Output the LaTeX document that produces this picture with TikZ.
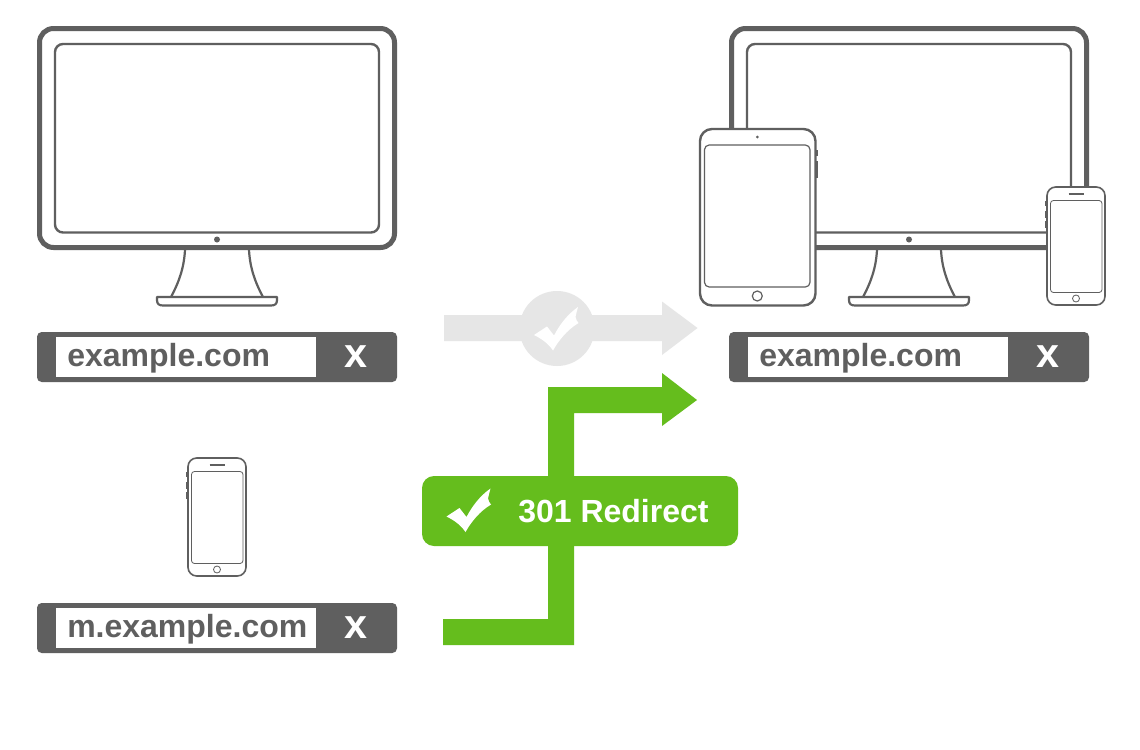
\documentclass[tikz,border=0pt]{standalone}
\usepackage{fontspec}
\setmainfont{Liberation Sans}
\definecolor{dk}{HTML}{5F5F5F}
\definecolor{gn}{HTML}{65BD1D}
\definecolor{lg}{HTML}{E6E6E6}
\tikzset{
  px/.style={line width=#1*0.75pt},
  ln/.style={draw=dk,px=#1},
  devbody/.style={draw=dk,fill=white,px=#1},
  urltext/.style={font=\bfseries\fontsize{24}{28}\selectfont,text=dk,anchor=west,inner sep=0pt},
  xmark/.style={font=\bfseries\fontsize{31}{32}\selectfont,text=white,inner sep=0pt},
  redirect/.style={fill=gn,rounded corners=9pt,minimum width=237pt,minimum height=52.5pt,inner sep=0pt},
  redirecttext/.style={font=\bfseries\fontsize{24}{30}\selectfont,text=white,inner sep=0pt,anchor=west},
}
% monitor: #1 = x offset
\newcommand{\mymonitor}[1]{
  \begin{scope}[shift={(#1,0)}]
    \draw[ln=5,rounded corners=10.5pt] (39.5,28.5) rectangle (394.5,247.5);
    \draw[ln=2.4,rounded corners=6pt] (55,44) rectangle (379,232.5);
    \fill[dk] (217,239.5) circle[radius=3];
    \draw[ln=2.2] (185,250) .. controls (184,268) and (179,282) .. (171,297);
    \draw[ln=2.2] (249,250) .. controls (250,268) and (255,282) .. (263,297);
    \draw[ln=2.2,line join=round] (157,297) -- (277,297) -- (277,300) .. controls (277,304) and (275,305.5) .. (271,305.5) -- (163,305.5) .. controls (159,305.5) and (157,304) .. (157,300) -- cycle;
  \end{scope}
}
% phone: #1,#2 = upper-left outer corner
\newcommand{\myphone}[2]{
  \begin{scope}[shift={(#1,#2)}]
    \fill[dk] (-1.6,14) rectangle (0,19.5);
    \fill[dk] (-1.6,24) rectangle (0,31.5);
    \fill[dk] (-1.6,34) rectangle (0,41);
    \fill[dk] (58,24) rectangle (59.6,33);
    \draw[devbody=1.6,rounded corners=6.5pt] (0.5,0.5) rectangle (58.5,118.5);
    \draw[ln=0.8,rounded corners=2.2pt] (4,14) rectangle (55.5,106);
    \draw[ln=1.2] (22,7.5) -- (37,7.5);
    \draw[ln=0.8] (29.5,112) circle[radius=3.5];
  \end{scope}
}
% check mark: #1,#2 = left point
\newcommand{\mycheck}[2]{
  \fill[white,shift={(#1,#2)}] (0,0) -- (13,-8.5) -- (20,0.5)
    .. controls (26,-11) and (34,-21) .. (44,-28) .. controls (43,-24) and (42,-21) .. (41.5,-18)
    .. controls (42,-15.5) and (43,-13.5) .. (44.5,-12) .. controls (33,-5) and (25,5) .. (19,15.5)
    .. controls (14,8) and (7,3.5) .. (0,0) -- cycle;
}
\begin{document}
\begin{tikzpicture}[x=0.75pt,y=-0.75pt]
\useasboundingbox (0,0) rectangle (1140,750);
\fill[white] (0,0) rectangle (1140,750);

% left monitor
\mymonitor{0}
% right monitor, tablet and phone
\mymonitor{692}
\fill[dk] (815,150) rectangle (818,155.5);
\fill[dk] (815,161) rectangle (818,178);
\draw[devbody=2.4,rounded corners=9pt] (700,129) rectangle (815.5,305.5);
\draw[ln=1.2,rounded corners=3.5pt] (704.5,145) rectangle (810,287);
\fill[dk] (757.3,137) circle[radius=1.5];
\draw[ln=1.2] (757.3,296) circle[radius=5];
\myphone{1046.5}{186.5}
% small phone
\myphone{187.5}{457.5}

% address bars
\node[fill=dk,rounded corners=3.5pt,minimum width=270pt,minimum height=37.5pt,inner sep=0pt] (barA) at (217,357) {};
\node[fill=white,minimum width=195pt,minimum height=30pt,inner sep=0pt] (fieldA) at (186,357) {};
\node[urltext] (urlA) at (67,358) {example.com};
\node[xmark] (xA) at (356,357) {x};

\node[fill=dk,rounded corners=3.5pt,minimum width=270pt,minimum height=37.5pt,inner sep=0pt] (barB) at (909,357) {};
\node[fill=white,minimum width=195pt,minimum height=30pt,inner sep=0pt] (fieldB) at (878,357) {};
\node[urltext] (urlB) at (759,358) {example.com};
\node[xmark] (xB) at (1048,357) {x};

\node[fill=dk,rounded corners=3.5pt,minimum width=270pt,minimum height=37.5pt,inner sep=0pt] (barC) at (217,628) {};
\node[fill=white,minimum width=195pt,minimum height=30pt,inner sep=0pt] (fieldC) at (186,628) {};
\node[urltext] (urlC) at (67,629) {m.example.com};
\node[xmark] (xC) at (356,628) {x};

% grey arrow
\fill[lg] (444,315) -- (662,315) -- (662,301.5) -- (697.5,328) -- (662,355) -- (662,341) -- (444,341) -- cycle;
\fill[lg] (557,328.5) circle[radius=37.5];
\mycheck{534}{335}

% green arrow
\fill[gn] (443,619) -- (548,619) -- (548,387) -- (662,387) -- (662,373) -- (697,400) -- (662,426) -- (662,413) -- (574,413) -- (574,645) -- (443,645) -- cycle;
\node[redirect] (label) at (580,511) {};
\mycheck{446.5}{516.5}
\node[redirecttext] (labeltext) at (518,511.5) {301 Redirect};
\end{tikzpicture}
\end{document}
